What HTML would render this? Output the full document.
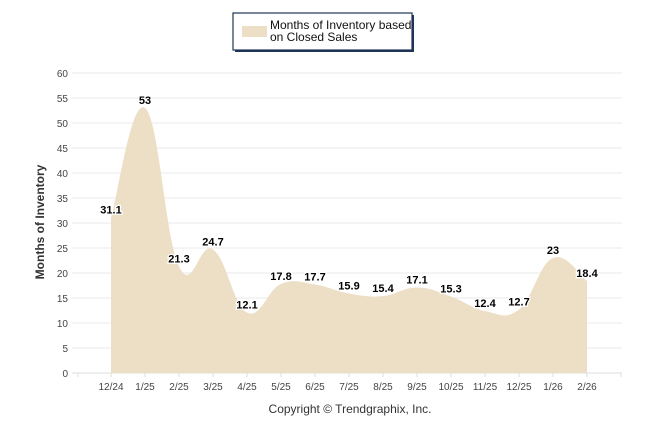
<!DOCTYPE html>
<html><head><meta charset="utf-8"><style>
body{margin:0;background:#fff;font-family:"Liberation Sans",sans-serif}
svg text{font-family:"Liberation Sans",sans-serif}
</style></head><body>
<svg id="c" width="646" height="434">
<g>
<rect x="235" y="15" width="179" height="37" fill="#1f3557"/>
<rect x="233" y="13" width="179" height="37" fill="#fff" stroke="#1f3557" stroke-width="1.2"/>
<rect x="242" y="26" width="25" height="11" fill="#ECDFC6"/>
<text x="270" y="29" font-size="12" fill="#111">Months of Inventory based</text>
<text x="270" y="41" font-size="12" fill="#111">on Closed Sales</text>
</g>
<g id="grid"></g><g id="area"></g><g id="labels"></g>
<text x="44" y="222" font-size="12" font-weight="bold" fill="#333" transform="rotate(-90 44 222)" text-anchor="middle">Months of Inventory</text>
<text x="350" y="413" font-size="12" fill="#333" text-anchor="middle">Copyright © Trendgraphix, Inc.</text>
</svg>
<script>
const categories=["12/24","1/25","2/25","3/25","4/25","5/25","6/25","7/25","8/25","9/25","10/25","11/25","12/25","1/26","2/26"];
const values=[31.1,53,21.3,24.7,12.1,17.8,17.7,15.9,15.4,17.1,15.3,12.4,12.7,23,18.4];
const yTicks=[0,5,10,15,20,25,30,35,40,45,50,55,60];
const NS="http://www.w3.org/2000/svg";
const X=i=>111+i*34, Y=v=>373-v*5;
function mk(t,a,p){const e=document.createElementNS(NS,t);for(const k in a)e.setAttribute(k,a[k]);p.appendChild(e);return e;}
const grid=document.getElementById('grid');
yTicks.forEach(t=>{
 const l=mk('line',{x1:72,x2:622,y1:Y(t),y2:Y(t),stroke:t===0?'#ddd':'#eaeaea'},grid);
 
 
 const tx=mk('text',{x:68,y:Y(t)+4,'font-size':10,fill:'#444','text-anchor':'end'},grid);tx.textContent=t;
 
 
});
for(let i=-1;i<=categories.length;i++){const x=i<0?78:X(i);mk('line',{x1:x,x2:x,y1:373,y2:377,stroke:'#ddd'},grid);}
categories.forEach((c,i)=>{const t=mk('text',{x:X(i),y:390,'font-size':10,fill:'#444','text-anchor':'middle'},grid);t.textContent=c;
 
 });
const pts=values.map((v,i)=>[X(i),Y(v)]);
let d=`M${pts[0][0]},${Y(0)}L${pts[0][0]},${pts[0][1]}`;
const s=1/3.2;
for(let i=0;i<pts.length-1;i++){
 const p0=pts[Math.max(0,i-1)],p1=pts[i],p2=pts[i+1],p3=pts[Math.min(pts.length-1,i+2)];
 const c1=[p1[0]+(p2[0]-p0[0])*s/2*1.3,p1[1]+(p2[1]-p0[1])*s/2*1.3];
 const c2=[p2[0]-(p3[0]-p1[0])*s/2*1.3,p2[1]-(p3[1]-p1[1])*s/2*1.3];
 d+=`C${c1[0]},${c1[1]} ${c2[0]},${c2[1]} ${p2[0]},${p2[1]}`;
}
d+=`L${pts[pts.length-1][0]},${Y(0)}Z`;
const a=mk('path',{d,fill:'#ECDFC6'},document.getElementById('area'));


const lab=document.getElementById('labels');
values.forEach((v,i)=>{const t=mk('text',{x:X(i),y:Y(v)-4,'font-size':11,'font-weight':'bold',fill:'#000','text-anchor':'middle',stroke:'#fff','stroke-width':2.5,'paint-order':'stroke'},lab);t.textContent=v;
 
 });
</script>
</body></html>
